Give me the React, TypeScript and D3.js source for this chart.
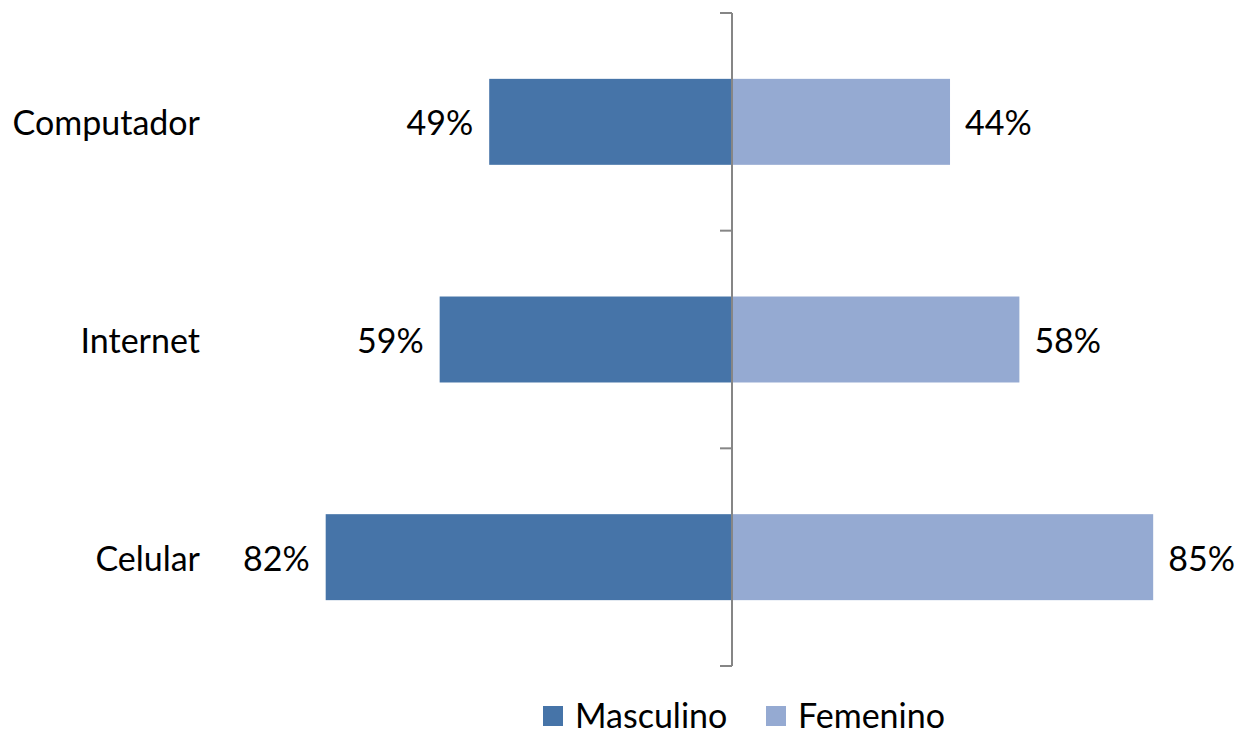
import * as d3 from "d3";

const categories = ["Computador", "Internet", "Celular"];
const masculino = [49, 59, 82];
const femenino = [44, 58, 85];
const seriesNames = ["Masculino", "Femenino"];
const colors = ["#4674A8", "#95AAD2"];

const W = 1236;
const H = 729;
const FONT = "Lato, 'Open Sans', sans-serif";
const FS = 34;

export default function App() {
  const x = d3.scaleLinear().domain([-100, 100]).range([236.5, 1227.5]);
  const y = d3
    .scaleBand<string>()
    .domain(categories)
    .range([13, 666])
    .paddingInner(0.605)
    .paddingOuter(0.3025);
  const bw = y.bandwidth();
  const step = y.step();
  const x0 = x(0);

  const tickYs = d3.range(categories.length + 1).map((i) => 13 + i * step);

  return (
    <svg
      width={W}
      height={H}
      style={{ position: "absolute", left: 0, top: 0 }}
      fontFamily={FONT}
    >
      <rect width={W} height={H} fill="#fff" />
      {categories.map((c, i) => {
        const yy = y(c)!;
        const cy = yy + bw / 2;
        return (
          <g key={c}>
            <rect
              x={x(-masculino[i])}
              y={yy}
              width={x0 - x(-masculino[i])}
              height={bw}
              fill={colors[0]}
            />
            <rect
              x={x0}
              y={yy}
              width={x(femenino[i]) - x0}
              height={bw}
              fill={colors[1]}
            />
            <text
              x={x(-masculino[i]) - 16}
              y={cy}
              textAnchor="end"
              dominantBaseline="central"
              fontSize={FS}
              fill="#000"
            >
              {masculino[i]}%
            </text>
            <text
              x={x(femenino[i]) + 15}
              y={cy}
              textAnchor="start"
              dominantBaseline="central"
              fontSize={FS}
              fill="#000"
            >
              {femenino[i]}%
            </text>
            <text
              x={200}
              y={cy}
              textAnchor="end"
              dominantBaseline="central"
              fontSize={FS}
              fill="#000"
            >
              {c}
            </text>
          </g>
        );
      })}
      {/* central axis */}
      <line x1={x0} x2={x0} y1={13} y2={666} stroke="#868686" strokeWidth={2} />
      {tickYs.map((t, i) => (
        <line key={i} x1={x0 - 12} x2={x0} y1={t} y2={t} stroke="#868686" strokeWidth={2} />
      ))}
      {/* legend */}
      {seriesNames.map((s, i) => {
        const lx = i === 0 ? 543 : 766;
        return (
          <g key={s}>
            <rect x={lx} y={706} width={20} height={20} fill={colors[i]} />
            <text
              x={lx + 32}
              y={714}
              dominantBaseline="central"
              fontSize={FS}
              fill="#000"
            >
              {s}
            </text>
          </g>
        );
      })}
    </svg>
  );
}
